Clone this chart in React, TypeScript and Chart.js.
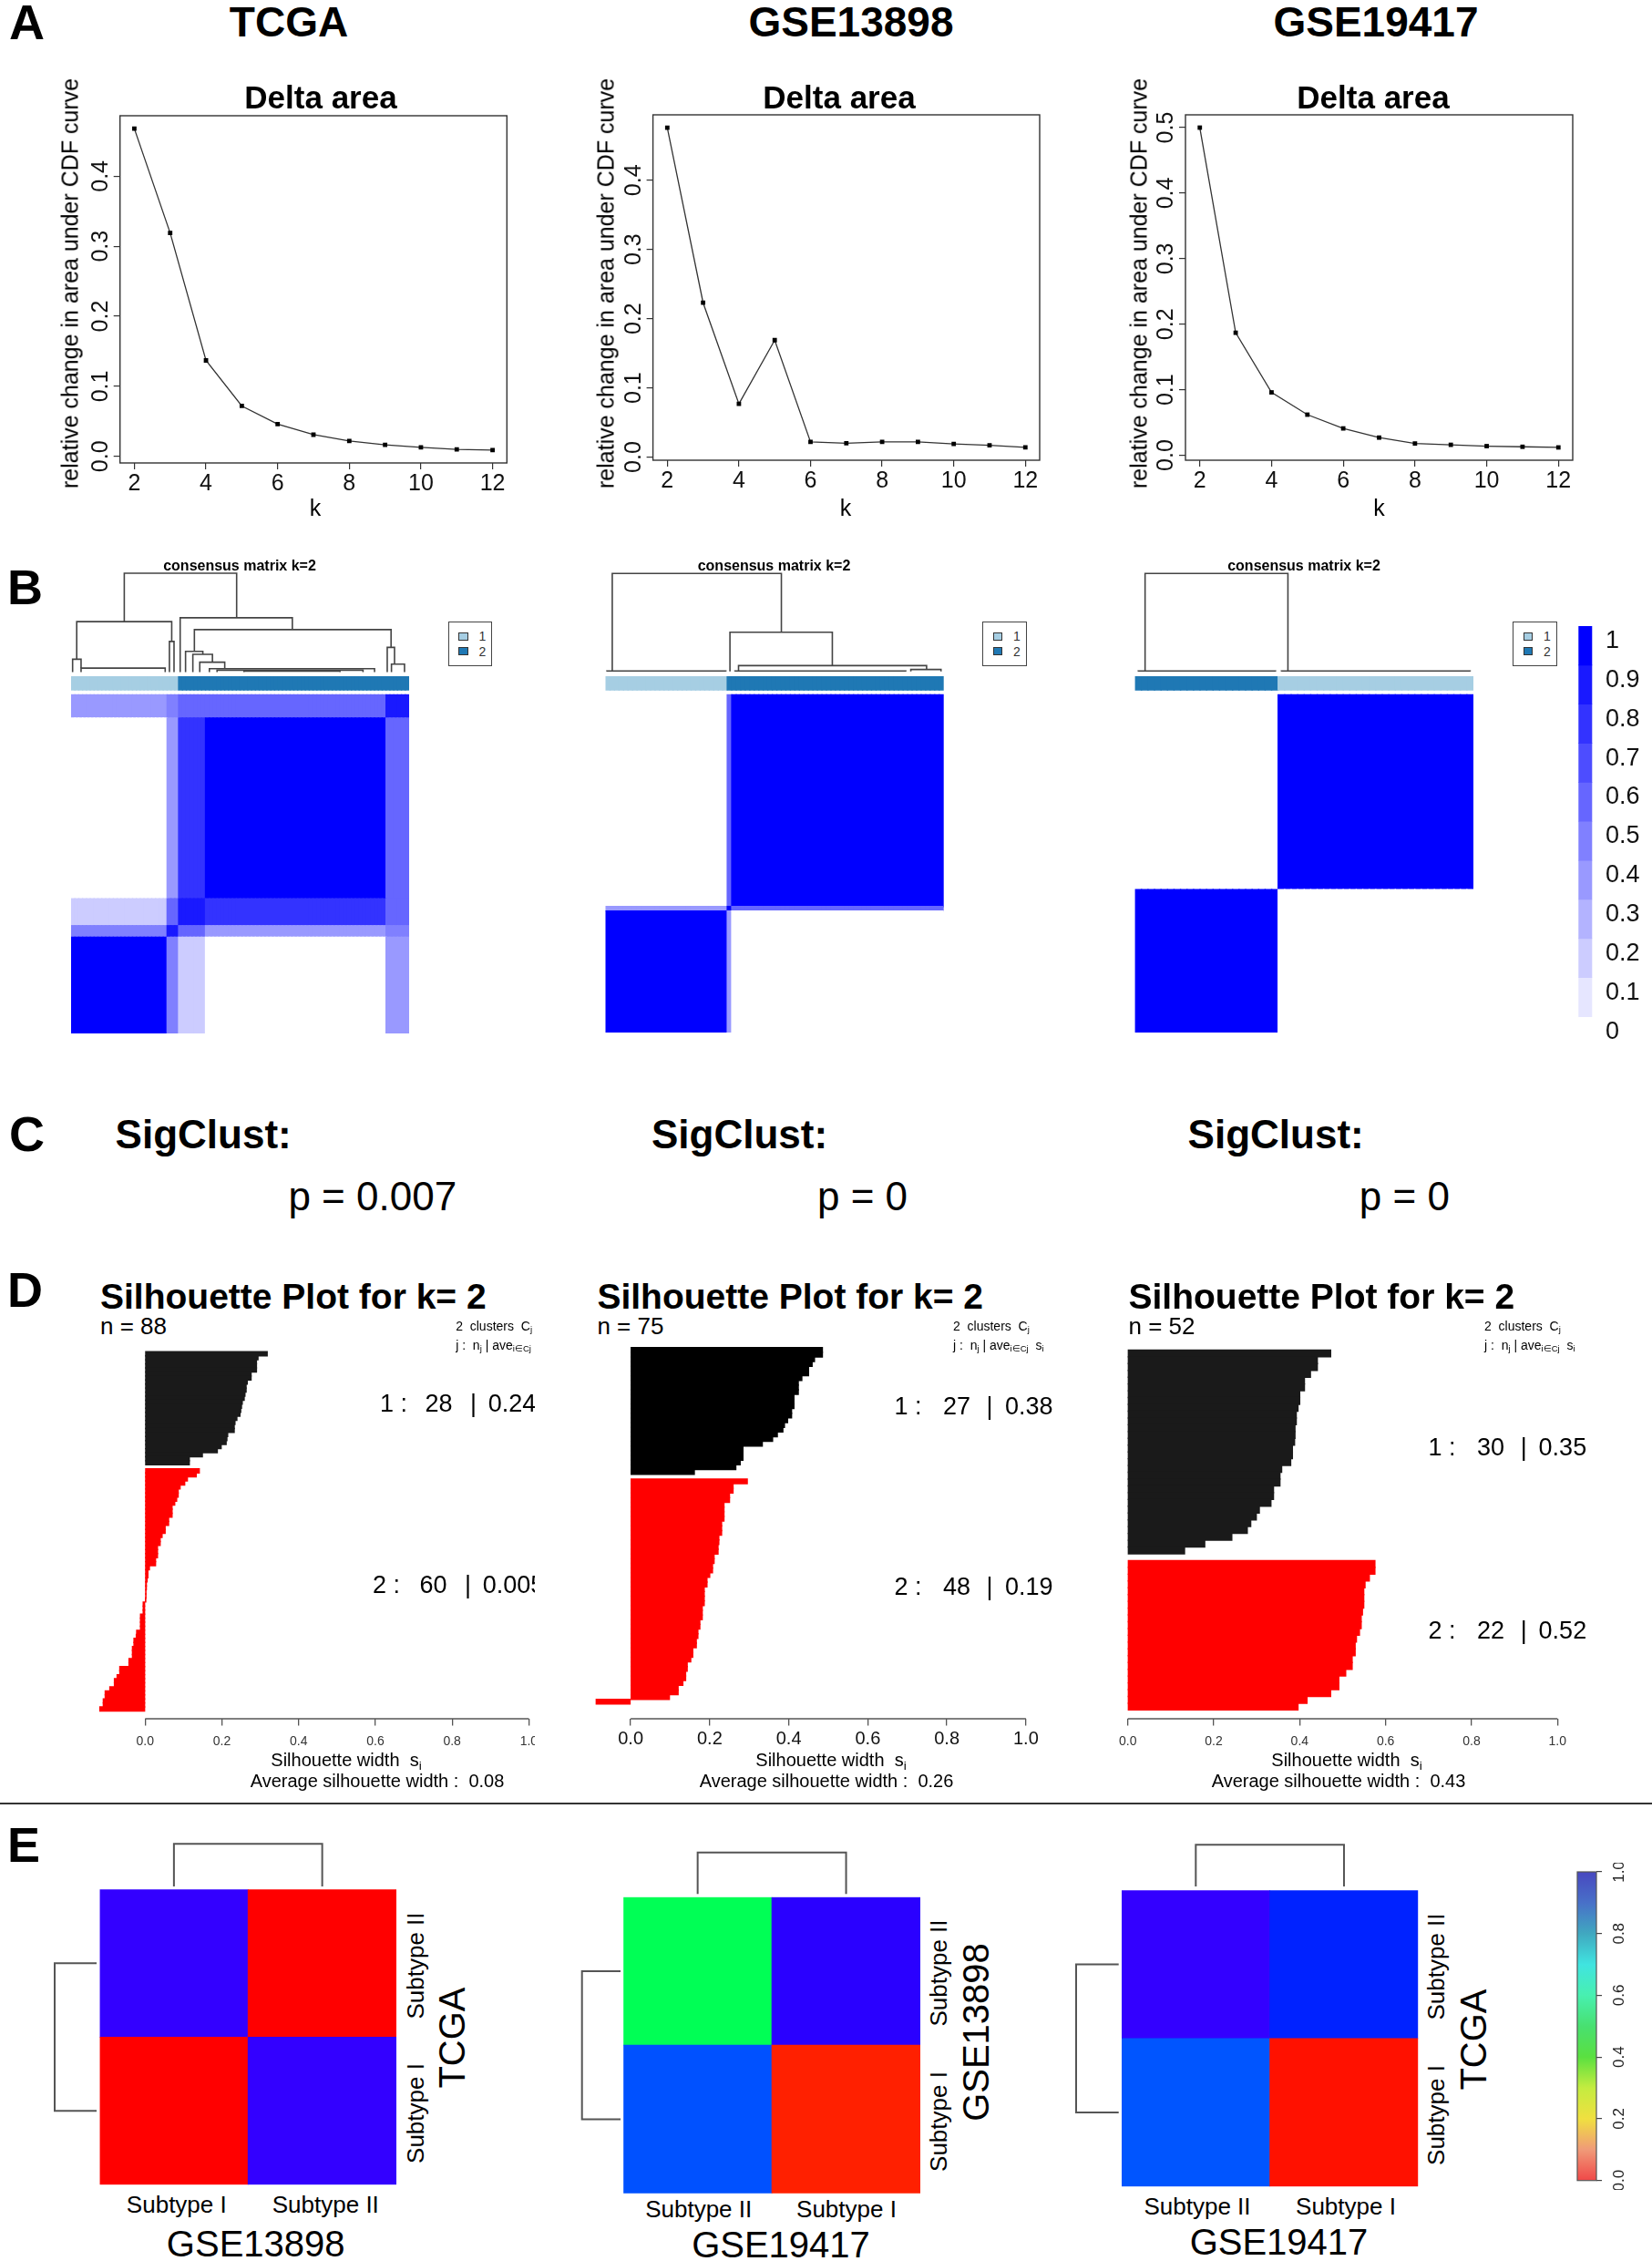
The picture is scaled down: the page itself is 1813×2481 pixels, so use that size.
import React, { useEffect, useRef } from 'react';
import { Chart, registerables } from 'chart.js';

Chart.register(...registerables);

const FONT = '"Liberation Sans", Arial, Helvetica, sans-serif';
Chart.defaults.font.family = FONT;

// ======================= DATA =======================
// Panel A: delta area (relative change in area under CDF curve)
const K_VALUES = [2, 3, 4, 5, 6, 7, 8, 9, 10, 11, 12];
const K_TICKS = [2, 4, 6, 8, 10, 12];
const DELTA_TCGA = [0.468, 0.319, 0.137, 0.072, 0.046, 0.031, 0.022, 0.0165, 0.013, 0.01, 0.009];
const DELTA_GSE13898 = [0.476, 0.223, 0.077, 0.169, 0.022, 0.02, 0.022, 0.022, 0.019, 0.017, 0.014];
const DELTA_GSE19417 = [0.5, 0.187, 0.096, 0.062, 0.041, 0.027, 0.018, 0.016, 0.014, 0.013, 0.012];
const DELTA_TICKS_04 = [0, 0.1, 0.2, 0.3, 0.4];
const DELTA_TICKS_05 = [0, 0.1, 0.2, 0.3, 0.4, 0.5];
const DATASET_NAMES = ['TCGA', 'GSE13898', 'GSE19417'];

// Panel B: consensus matrices (sample segments in dendrogram order, segment-level consensus)
const CM_TCGA_SEGMENTS = [25, 3, 7, 47, 6];
const CM_TCGA_CLUSTER = [1, 1, 2, 2, 2];
const CM_TCGA_VALUES = [
  [1.0, 0.5, 0.15, 0.0, 0.4],
  [0.5, 0.9, 0.6, 0.4, 0.45],
  [0.15, 0.6, 0.9, 0.8, 0.6],
  [0.0, 0.4, 0.8, 1.0, 0.6],
  [0.4, 0.45, 0.6, 0.6, 0.9],
];
const CM_GSE13898_SEGMENTS = [27, 1, 47];
const CM_GSE13898_CLUSTER = [1, 2, 2];
const CM_GSE13898_VALUES = [
  [1.0, 0.4, 0.0],
  [0.4, 1.0, 0.6],
  [0.0, 0.6, 1.0],
];
const CM_GSE19417_SEGMENTS = [22, 30];
const CM_GSE19417_CLUSTER = [2, 1];
const CM_GSE19417_VALUES = [
  [1.0, 0.0],
  [0.0, 1.0],
];
const CONSENSUS_LEVELS = [0, 0.1, 0.2, 0.3, 0.4, 0.5, 0.6, 0.7, 0.8, 0.9, 1];
const CLUSTER_LABELS = ['1', '2'];
// dendrogram merges: [x left, x right, merge height, left child height, right child height]
const DENDRO_TCGA = [
  [13.85, 43.1, 1.0, 0.51, 0.55],
  [1.47, 26.2, 0.51, 0.13, 0.31],
  [0.4, 2.6, 0.13, 0.0, 0.04],
  [2.6, 24.5, 0.04, 0.0, 0.0],
  [25.6, 26.8, 0.31, 0.0, 0.0],
  [28.4, 57.6, 0.55, 0.0, 0.43],
  [32.1, 83.3, 0.43, 0.21, 0.25],
  [29.8, 34.3, 0.21, 0.0, 0.18],
  [31.7, 36.8, 0.18, 0.0, 0.1],
  [33.5, 40.0, 0.1, 0.0, 0.035],
  [36.0, 79.0, 0.035, 0.0, 0.0],
  [38.0, 76.0, 0.02, 0.0, 0.0],
  [45.0, 70.0, 0.01, 0.0, 0.0],
  [82.3, 84.2, 0.25, 0.0, 0.08],
  [83.4, 86.8, 0.08, 0.0, 0.0],
];
const DENDRO_GSE13898 = [
  [1.5, 39.0, 1.0, 0.0, 0.4],
  [27.6, 50.3, 0.4, 0.0, 0.06],
  [29.5, 71.2, 0.06, 0.0, 0.02],
  [67.7, 74.4, 0.02, 0.0, 0.0],
  [0.3, 26.7, 0.005, 0.0, 0.0],
  [28.7, 66.6, 0.005, 0.0, 0.0],
];
const DENDRO_GSE19417 = [
  [1.55, 23.5, 1.0, 0.0, 0.0],
  [0.5, 21.6, 0.005, 0.0, 0.0],
  [22.5, 51.5, 0.005, 0.0, 0.0],
];

// Panel C: SigClust p-values
const SIGCLUST_P = ['0.007', '0', '0'];

// Panel D: silhouette widths (sorted within cluster, top to bottom)
const SIL_TCGA_C1 = [0.318, 0.294, 0.29, 0.29, 0.29, 0.276, 0.276, 0.266, 0.263, 0.263, 0.26, 0.258, 0.253, 0.251, 0.249, 0.247, 0.239, 0.234, 0.232, 0.232, 0.215, 0.213, 0.211, 0.198, 0.188, 0.149, 0.115, 0.115];
const SIL_TCGA_C2 = [0.141, 0.133, 0.11, 0.103, 0.091, 0.086, 0.086, 0.082, 0.077, 0.07, 0.07, 0.07, 0.061, 0.061, 0.052, 0.052, 0.044, 0.039, 0.039, 0.032, 0.032, 0.032, 0.027, 0.027, 0.011, 0.007, 0.007, 0.005, 0.003, 0.003, 0.002, 0.002, 0.001, -0.005, -0.005, -0.005, -0.012, -0.012, -0.012, -0.012, -0.022, -0.023, -0.029, -0.029, -0.033, -0.033, -0.033, -0.042, -0.042, -0.066, -0.066, -0.073, -0.08, -0.08, -0.092, -0.104, -0.104, -0.109, -0.109, -0.118];
const SIL_GSE13898_C1 = [0.485, 0.485, 0.465, 0.459, 0.45, 0.45, 0.433, 0.424, 0.424, 0.424, 0.413, 0.413, 0.413, 0.407, 0.407, 0.397, 0.389, 0.385, 0.371, 0.359, 0.333, 0.284, 0.284, 0.284, 0.277, 0.266, 0.161];
const SIL_GSE13898_C2 = [0.295, 0.259, 0.259, 0.25, 0.25, 0.236, 0.236, 0.236, 0.236, 0.23, 0.23, 0.23, 0.223, 0.223, 0.221, 0.221, 0.211, 0.211, 0.207, 0.207, 0.2, 0.193, 0.193, 0.186, 0.186, 0.186, 0.186, 0.181, 0.181, 0.181, 0.175, 0.175, 0.17, 0.17, 0.166, 0.166, 0.157, 0.157, 0.152, 0.143, 0.143, 0.139, 0.139, 0.132, 0.12, 0.12, 0.098, -0.087];
const SIL_GSE19417_C1 = [0.472, 0.441, 0.441, 0.425, 0.411, 0.411, 0.4, 0.4, 0.396, 0.392, 0.392, 0.389, 0.389, 0.388, 0.383, 0.383, 0.379, 0.358, 0.354, 0.354, 0.339, 0.339, 0.333, 0.306, 0.299, 0.286, 0.278, 0.242, 0.179, 0.132];
const SIL_GSE19417_C2 = [0.575, 0.575, 0.562, 0.552, 0.549, 0.549, 0.549, 0.546, 0.543, 0.543, 0.539, 0.532, 0.529, 0.529, 0.522, 0.522, 0.507, 0.491, 0.491, 0.472, 0.417, 0.396];
const SIL_N = [88, 75, 52];
const SIL_CLUSTER_N = [[28, 60], [27, 48], [30, 22]];
const SIL_CLUSTER_AVE = [['0.24', '0.005'], ['0.38', '0.19'], ['0.35', '0.52']];
const SIL_AVERAGE = ['0.08', '0.26', '0.43'];
const SIL_TICKS = [0, 0.2, 0.4, 0.6, 0.8, 1.0];

// Panel E: subclass mapping (rows bottom->top: Subtype I, Subtype II; cols left->right)
const E1_VALUES = [[0.0, 1.0], [1.0, 0.0]];
const E2_VALUES = [[0.877, 0.03], [0.556, 0.992]];
const E3_VALUES = [[0.873, 0.016], [1.0, 0.921]];
const E_ROW_LABELS = ['Subtype I', 'Subtype II'];
const E1_COL_LABELS = ['Subtype I', 'Subtype II'];
const E2_COL_LABELS = ['Subtype II', 'Subtype I'];
const E3_COL_LABELS = ['Subtype II', 'Subtype I'];
const E_ROW_NAMES = ['TCGA', 'GSE13898', 'TCGA'];
const E_COL_NAMES = ['GSE13898', 'GSE19417', 'GSE19417'];
const E_DENDRO = [[0.5, 1.5, 1.0, 0.0, 0.0]];
const E_CBAR_TICKS = [0, 0.2, 0.4, 0.6, 0.8, 1.0];

// ======================= STYLE / LAYOUT =======================
const CLUSTER_COLORS = ['#A6CEE3', '#1F78B4'];
const E_CBAR_STOPS: [number, string][] = [
  [0, '#f04848'], [0.1, '#f09a78'], [0.2, '#f0e040'], [0.3, '#c4ec40'], [0.4, '#5ae040'],
  [0.5, '#48e070'], [0.6, '#48f0b0'], [0.7, '#40e4e0'], [0.8, '#40a8c0'], [0.9, '#4870c8'], [1, '#4848c0'],
];

const A_AREAS = [
  { l: 131.7, t: 127, r: 556.3, b: 508 },
  { l: 716.6, t: 126, r: 1141, b: 505 },
  { l: 1301, t: 126, r: 1726, b: 505 },
];
const A_TITLE_X = [317, 934, 1510];
const A_SUB_X = [352, 921, 1507];
const A_YT_X = [77, 665, 1249.6];
const A_K_X = [346, 928, 1513.5];

const B_GEO = [
  { x0: 78, x1: 449, dTop: 629, dBottom: 737.5, annTop: 742, annBottom: 757, matTop: 762.5, matBottom: 1134, title: 263, leg: 491.5 },
  { x0: 664.5, x1: 1035.7, dTop: 629.3, dBottom: 736.8, annTop: 742, annBottom: 757, matTop: 762.5, matBottom: 1133, title: 849.5, leg: 1078 },
  { x0: 1245.6, x1: 1617, dTop: 629.3, dBottom: 736.8, annTop: 742, annBottom: 757, matTop: 762.5, matBottom: 1133, title: 1431, leg: 1660 },
];
const B_CBAR = { l: 1732.3, t: 687, r: 1747.4, b: 1158.4 };

const C_SIG_X = [126.6, 715, 1303.6];
const C_P_X = [316.4, 897, 1491.8];

const D_GEO = [
  { x0: 159.3, unit: 421.1, xmin: -0.125, barsTop: 1483.3, barsBottom: 1877.5, axisY: 1886, clipRight: 587, titleX: 110, hdrX: 500.2,
    tickSize: 14, tickColor: '#333', tickPad: 10.4, c1Color: '#1a1a1a',
    textX: [[417, 466.6, 516, 535.8], [409, 460.6, 510, 529.8]], textY: [1540.7, 1739.7], axTitleX: 380, avgX: 414 },
  { x0: 692.1, unit: 433.8, xmin: -0.1, barsTop: 1478.7, barsBottom: 1869.9, axisY: 1886, clipRight: 0, titleX: 655.4, hdrX: 1046,
    tickSize: 20, tickColor: '#111', tickPad: 4.4, c1Color: '#000',
    textX: [[981.6, 1035, 1082.4, 1103], [981.6, 1035, 1082.4, 1103]], textY: [1543.8, 1741], axTitleX: 912, avgX: 907 },
  { x0: 1237.7, unit: 471.6, xmin: -0.02, barsTop: 1481.4, barsBottom: 1876.4, axisY: 1886, clipRight: 0, titleX: 1238.5, hdrX: 1629,
    tickSize: 14, tickColor: '#333', tickPad: 10.4, c1Color: '#1a1a1a',
    textX: [[1567.4, 1621, 1668.7, 1688.6], [1567.4, 1621, 1668.7, 1688.6]], textY: [1588.6, 1789.5], axTitleX: 1478, avgX: 1469 },
];

const E_GEO = [
  { hm: { l: 109.5, t: 2073.3, r: 435, b: 2397.3 }, topDen: { t: 2023.3, b: 2070 }, leftDen: { l: 60, r: 106 },
    rowX: 455.8, rowY: [2319, 2156.7], nameX: 496, nameY: 2236, colY: 2419, colX: [193.8, 357.3], cnX: 280.7, cnY: 2462 },
  { hm: { l: 684.2, t: 2081.7, r: 1010, b: 2406.7 }, topDen: { t: 2032.7, b: 2078.3 }, leftDen: { l: 638.7, r: 681 },
    rowX: 1030, rowY: [2328, 2165], nameX: 1071.4, nameY: 2230, colY: 2424, colX: [766.7, 929], cnX: 857, cnY: 2463 },
  { hm: { l: 1231, t: 2074.3, r: 1556.3, b: 2399.3 }, topDen: { t: 2024.3, b: 2070 }, leftDen: { l: 1181, r: 1227.7 },
    rowX: 1576.4, rowY: [2321, 2158], nameX: 1617, nameY: 2237.5, colY: 2421, colX: [1314, 1477], cnX: 1403.5, cnY: 2460 },
];
const E_CBAR = { l: 1731, t: 2054, r: 1752, b: 2392.7 };

// ======================= HELPERS =======================
type Box = { l: number; t: number; r: number; b: number };

function frame(area: Box, m: Box) {
  const left = Math.floor(area.l - m.l);
  const top = Math.floor(area.t - m.t);
  const width = Math.ceil(area.r + m.r) - left;
  const height = Math.ceil(area.b + m.b) - top;
  return {
    left, top, width, height,
    padding: { left: area.l - left, top: area.t - top, right: left + width - area.r, bottom: top + height - area.b },
  };
}

// fix a scale's thickness (labels are clipped to the scale box, so visible axes get the margin)
const axisFit = (size: number) => (s: any) => {
  if (s.isHorizontal()) s.height = size; else s.width = size;
  s.paddingLeft = 0; s.paddingRight = 0; s.paddingTop = 0; s.paddingBottom = 0;
};
const zeroFit = axisFit(0);

function hiddenLinear(min: number, max: number, extra: any = {}) {
  return {
    type: 'linear', display: false, min, max, offset: false,
    grid: { display: false, offset: false, drawTicks: false },
    ticks: { display: false },
    afterBuildTicks: (s: any) => { s.ticks = [{ value: min }, { value: max }]; },
    afterFit: zeroFit,
    ...extra,
  };
}

function baseOptions(padding: any, extra: any = {}) {
  return {
    responsive: false, maintainAspectRatio: false, animation: false, devicePixelRatio: 1, events: [],
    layout: { padding, autoPadding: false },
    plugins: { legend: { display: false }, tooltip: { enabled: false }, title: { display: false } },
    ...extra,
  };
}

const consensusColor = (v: number) => {
  const q = Math.round(v * 10) / 10;
  const c = Math.round(255 * (1 - q));
  return `rgb(${c},${c},255)`;
};
const rainbow = (v: number) => `hsl(${v * 252}, 100%, 50%)`;

function boxBorder(color: string, width: number) {
  return {
    id: 'boxBorder',
    afterDraw(chart: any) {
      const { ctx, chartArea: a } = chart;
      ctx.save();
      ctx.strokeStyle = color;
      ctx.lineWidth = width;
      ctx.strokeRect(a.left, a.top, a.right - a.left, a.bottom - a.top);
      ctx.restore();
    },
  };
}

function rotTicks(axis: string, side: string, offset: number, size: number, color: string, fmt: (v: number) => string) {
  return {
    id: 'rotTicks',
    afterDraw(chart: any) {
      const s = chart.scales[axis];
      const a = chart.chartArea;
      const ctx = chart.ctx;
      ctx.save();
      ctx.font = `${size}px ${FONT}`;
      ctx.fillStyle = color;
      ctx.textAlign = 'center';
      ctx.textBaseline = 'alphabetic';
      const x = side === 'left' ? a.left - offset : a.right + offset;
      for (const t of s.ticks) {
        const y = s.getPixelForValue(t.value);
        ctx.save();
        ctx.translate(x, y);
        ctx.rotate(-Math.PI / 2);
        ctx.fillText(fmt(t.value), 0, 0);
        ctx.restore();
      }
      ctx.restore();
    },
  };
}

const silAxisLine = {
  id: 'silAxisLine',
  afterDraw(chart: any) {
    const s = chart.scales.x;
    const y = chart.chartArea.bottom;
    const ctx = chart.ctx;
    ctx.save();
    ctx.strokeStyle = '#555';
    ctx.lineWidth = 1.3;
    ctx.beginPath();
    ctx.moveTo(s.getPixelForValue(0), y);
    ctx.lineTo(s.getPixelForValue(1), y);
    ctx.stroke();
    ctx.restore();
  },
};

// ======================= CHART CONFIGS =======================
function deltaChart(values: number[], yTicks: number[], p: any) {
  const lo = Math.min(...values), hi = Math.max(...values), span = hi - lo;
  const kLo = Math.min(...K_VALUES), kHi = Math.max(...K_VALUES), kSpan = kHi - kLo;
  const tickGrid = { display: true, drawOnChartArea: false, drawTicks: true, tickLength: 7, color: '#333', lineWidth: 1.2 };
  return {
    type: 'line',
    data: {
      datasets: [{
        data: K_VALUES.map((k, i) => ({ x: k, y: values[i] })),
        borderColor: '#333', borderWidth: 1.3, tension: 0, fill: false,
        pointStyle: 'rect', pointRadius: 3.4, pointBackgroundColor: '#000', pointBorderColor: '#000', pointBorderWidth: 0,
      }],
    },
    options: baseOptions({ ...p, bottom: 0 }, {
      scales: {
        x: {
          type: 'linear', min: kLo - 0.04 * kSpan, max: kHi + 0.04 * kSpan, offset: false,
          afterBuildTicks: (s: any) => { s.ticks = K_TICKS.map((v) => ({ value: v })); },
          afterFit: axisFit(p.bottom), border: { display: false }, grid: tickGrid,
          ticks: { autoSkip: false, maxRotation: 0, minRotation: 0, padding: 3.5, color: '#111', font: { size: 25, lineHeight: 1 } },
        },
        y: {
          type: 'linear', min: lo - 0.04 * span, max: hi + 0.04 * span,
          afterBuildTicks: (s: any) => { s.ticks = yTicks.map((v) => ({ value: v })); },
          afterFit: zeroFit, border: { display: false }, grid: tickGrid, ticks: { display: false },
        },
      },
    }),
    plugins: [boxBorder('#333', 1.4), rotTicks('y', 'left', 14, 25, '#111', (v) => v.toFixed(1))],
  };
}

function dendroChart(merges: number[][], n: number, padding: any, color: string, width: number, horizontal = false) {
  const datasets = merges.map(([a, b, h, ha, hb]) => ({
    data: horizontal
      ? [{ x: ha, y: a }, { x: h, y: a }, { x: h, y: b }, { x: hb, y: b }]
      : [{ x: a, y: ha }, { x: a, y: h }, { x: b, y: h }, { x: b, y: hb }],
    showLine: true, borderColor: color, borderWidth: width, pointRadius: 0, fill: false, tension: 0, clip: false,
  }));
  return {
    type: 'scatter',
    data: { datasets },
    options: baseOptions(padding, {
      scales: horizontal
        ? { x: hiddenLinear(0, 1, { reverse: true }), y: hiddenLinear(0, n) }
        : { x: hiddenLinear(0, n), y: hiddenLinear(0, 1) },
    }),
  };
}

const CELL_BAR = { borderWidth: 0, barPercentage: 1, categoryPercentage: 1, grouped: false, inflateAmount: 0.7 };

function consensusChart(segments: number[], clusters: number[], values: number[][], g: any, padding: any) {
  const n = segments.reduce((a, b) => a + b, 0);
  const starts: number[] = [];
  let acc = 0;
  segments.forEach((s) => { starts.push(acc); acc += s; });
  const colSeg: number[] = [];
  segments.forEach((s, i) => { for (let k = 0; k < s; k++) colSeg.push(i); });
  const cells = segments.map((size, ri) => ({
    ...CELL_BAR, yAxisID: 'y',
    data: colSeg.map((_, c) => ({ x: c + 0.5, y: [starts[ri], starts[ri] + size] })),
    backgroundColor: colSeg.map((cs) => consensusColor(values[ri][cs])),
  }));
  const annot = {
    ...CELL_BAR, yAxisID: 'y2',
    data: colSeg.map((_, c) => ({ x: c + 0.5, y: [0, 1] })),
    backgroundColor: colSeg.map((cs) => CLUSTER_COLORS[clusters[cs] - 1]),
  };
  const H = g.matBottom - g.annTop;
  return {
    type: 'bar',
    data: { datasets: [...cells, annot] },
    options: baseOptions(padding, {
      scales: {
        x: hiddenLinear(0, n),
        y: hiddenLinear(0, (n * H) / (g.matBottom - g.matTop)),
        y2: hiddenLinear(-(g.matBottom - g.annBottom) / (g.annBottom - g.annTop), 1),
      },
    }),
  };
}

function consensusBarChart(p: any) {
  return {
    type: 'bar',
    data: {
      datasets: [{
        data: CONSENSUS_LEVELS.map((v) => ({ x: 0, y: [v - 0.05, v + 0.05] })),
        backgroundColor: CONSENSUS_LEVELS.map(consensusColor),
        borderWidth: 0, barPercentage: 1, categoryPercentage: 1, grouped: false,
      }],
    },
    options: baseOptions({ ...p, right: 0 }, {
      scales: {
        x: hiddenLinear(-0.5, 0.5),
        y: {
          type: 'linear', position: 'right', min: -0.05, max: 1.05,
          afterBuildTicks: (s: any) => { s.ticks = CONSENSUS_LEVELS.map((v) => ({ value: v })); },
          afterFit: axisFit(p.right), border: { display: false }, grid: { display: false, drawTicks: false },
          ticks: {
            autoSkip: false, padding: 14.6, labelOffset: -4.8, color: '#111', font: { size: 27, lineHeight: 1 },
            callback: (v: any) => String(Math.round(Number(v) * 10) / 10),
          },
        },
      },
    }),
  };
}

function silChart(c1: number[], c2: number[], g: any, p: any) {
  const nSlots = c1.length + 1 + c2.length;
  const slot = (g.barsBottom - g.barsTop) / nSlots;
  const yMin = -0.5 - 4 / slot;
  const yMax = nSlots - 0.5 + (g.axisY - g.barsBottom) / slot;
  return {
    type: 'bar',
    data: {
      datasets: [
        { ...CELL_BAR, data: c1.map((v, i) => ({ x: v, y: i })), backgroundColor: g.c1Color },
        { ...CELL_BAR, data: c2.map((v, j) => ({ x: v, y: c1.length + 1 + j })), backgroundColor: '#ff0000' },
      ],
    },
    options: baseOptions({ ...p, bottom: 0 }, {
      indexAxis: 'y',
      scales: {
        x: {
          type: 'linear', min: g.xmin, max: 1, offset: false,
          afterBuildTicks: (s: any) => { s.ticks = SIL_TICKS.map((v) => ({ value: v })); },
          afterFit: axisFit(p.bottom), border: { display: false },
          grid: { display: true, drawOnChartArea: false, drawTicks: true, tickLength: 7.6, color: '#555', lineWidth: 1.3, offset: false },
          ticks: {
            autoSkip: false, maxRotation: 0, minRotation: 0, padding: g.tickPad, color: g.tickColor,
            font: { size: g.tickSize, lineHeight: 1 }, callback: (v: any) => Number(v).toFixed(1),
          },
        },
        y: hiddenLinear(yMin, yMax, { reverse: true }),
      },
    }),
    plugins: [silAxisLine],
  };
}

function subtypeHeatmap(values: number[][], padding: any) {
  return {
    type: 'bar',
    data: {
      datasets: values.map((row, ri) => ({
        ...CELL_BAR, inflateAmount: 0.4,
        data: row.map((_, ci) => ({ x: ci + 0.5, y: [ri, ri + 1] })),
        backgroundColor: row.map(rainbow),
      })),
    },
    options: baseOptions(padding, { scales: { x: hiddenLinear(0, 2), y: hiddenLinear(0, 2) } }),
  };
}

function rainbowBarChart(padding: any) {
  return {
    type: 'bar',
    data: {
      datasets: [{
        data: [{ x: 0, y: [0, 1] }],
        backgroundColor: (c: any) => {
          const ch = c.chart;
          const a = ch.chartArea;
          if (!a) return '#ccc';
          const grad = ch.ctx.createLinearGradient(0, a.bottom, 0, a.top);
          E_CBAR_STOPS.forEach(([pos, col]) => grad.addColorStop(pos, col));
          return grad;
        },
        borderWidth: 0, barPercentage: 1, categoryPercentage: 1, grouped: false,
      }],
    },
    options: baseOptions(padding, {
      scales: {
        x: hiddenLinear(-0.5, 0.5),
        y: {
          type: 'linear', position: 'right', min: 0, max: 1,
          afterBuildTicks: (s: any) => { s.ticks = E_CBAR_TICKS.map((v) => ({ value: v })); },
          afterFit: zeroFit, border: { display: false },
          grid: { display: true, drawOnChartArea: false, drawTicks: true, tickLength: 6, color: '#444', lineWidth: 1.2 },
          ticks: { display: false },
        },
      },
    }),
    plugins: [boxBorder('#555', 1.2), rotTicks('y', 'right', 30, 17, '#222', (v) => v.toFixed(1))],
  };
}

// ======================= COMPONENTS =======================
function ChartCanvas({ area, margin, make }: { area: Box; margin: Box; make: (padding: any) => any }) {
  const ref = useRef<HTMLCanvasElement | null>(null);
  const f = frame(area, margin);
  useEffect(() => {
    const chart = new Chart(ref.current as HTMLCanvasElement, make(f.padding));
    return () => chart.destroy();
  }, []);
  return (
    <canvas
      ref={ref}
      width={f.width}
      height={f.height}
      style={{ position: 'absolute', left: f.left, top: f.top, width: f.width, height: f.height }}
    />
  );
}

function Txt({ x, y, size, bold = false, align = 'left', rot = 0, color = '#000', children }: any) {
  const base: any = {
    position: 'absolute', fontSize: size, lineHeight: `${size}px`, fontWeight: bold ? 700 : 400,
    fontFamily: FONT, color, whiteSpace: 'pre',
  };
  if (rot) {
    return <div style={{ ...base, left: x, top: y, transform: `translate(-50%, -50%) rotate(${rot}deg)` }}>{children}</div>;
  }
  const tx = align === 'center' ? 'translateX(-50%)' : align === 'right' ? 'translateX(-100%)' : 'none';
  return <div style={{ ...base, left: x, top: y - size / 2, transform: tx }}>{children}</div>;
}

const Sub = ({ children }: any) => (
  <span style={{ fontSize: '0.68em', position: 'relative', top: '0.28em' }}>{children}</span>
);

const M = (v: number): Box => ({ l: v, t: v, r: v, b: v });

export default function App() {
  const deltaSets = [
    [DELTA_TCGA, DELTA_TICKS_04],
    [DELTA_GSE13898, DELTA_TICKS_04],
    [DELTA_GSE19417, DELTA_TICKS_05],
  ] as any[];
  const cmSets = [
    [CM_TCGA_SEGMENTS, CM_TCGA_CLUSTER, CM_TCGA_VALUES, DENDRO_TCGA],
    [CM_GSE13898_SEGMENTS, CM_GSE13898_CLUSTER, CM_GSE13898_VALUES, DENDRO_GSE13898],
    [CM_GSE19417_SEGMENTS, CM_GSE19417_CLUSTER, CM_GSE19417_VALUES, DENDRO_GSE19417],
  ] as any[];
  const silSets = [
    [SIL_TCGA_C1, SIL_TCGA_C2],
    [SIL_GSE13898_C1, SIL_GSE13898_C2],
    [SIL_GSE19417_C1, SIL_GSE19417_C2],
  ] as any[];
  const eSets = [
    [E1_VALUES, E1_COL_LABELS],
    [E2_VALUES, E2_COL_LABELS],
    [E3_VALUES, E3_COL_LABELS],
  ] as any[];

  return (
    <div style={{ position: 'absolute', left: 0, top: 0, width: 1813, height: 2481, background: '#fff', overflow: 'hidden', fontFamily: FONT }}>
      {/* ---------- Panel A ---------- */}
      {deltaSets.map(([vals, ticks], i) => (
        <ChartCanvas key={'a' + i} area={A_AREAS[i]} margin={{ l: 45, t: 12, r: 25, b: 45 }}
          make={(p) => deltaChart(vals, ticks, p)} />
      ))}
      <Txt x={10} y={23.6} size={54} bold>A</Txt>
      {DATASET_NAMES.map((name, i) => (
        <React.Fragment key={'at' + i}>
          <Txt x={A_TITLE_X[i]} y={23.6} size={46} bold align="center">{name}</Txt>
          <Txt x={A_SUB_X[i]} y={106} size={35} bold align="center">Delta area</Txt>
          <Txt x={A_YT_X[i]} y={311} size={25} rot={-90}>relative change in area under CDF curve</Txt>
          <Txt x={A_K_X[i]} y={557} size={25} align="center">k</Txt>
        </React.Fragment>
      ))}

      {/* ---------- Panel B ---------- */}
      <Txt x={8} y={643.5} size={54} bold>B</Txt>
      {cmSets.map(([segs, clus, vals, dendro], i) => {
        const g = B_GEO[i];
        const n = segs.reduce((a: number, b: number) => a + b, 0);
        return (
          <React.Fragment key={'b' + i}>
            <ChartCanvas area={{ l: g.x0, t: g.dTop, r: g.x1, b: g.dBottom }} margin={M(3)}
              make={(p) => dendroChart(dendro, n, p, '#444', 1.6)} />
            <ChartCanvas area={{ l: g.x0, t: g.annTop, r: g.x1, b: g.matBottom }} margin={M(1)}
              make={(p) => consensusChart(segs, clus, vals, g, p)} />
            <Txt x={g.title} y={620.5} size={16} bold align="center">consensus matrix k=2</Txt>
            <div style={{ position: 'absolute', left: g.leg, top: 681.5, width: 48.5, height: 49.5, border: '1px solid #444', boxSizing: 'border-box' }} />
            {CLUSTER_LABELS.map((lab, j) => (
              <React.Fragment key={'bl' + j}>
                <div style={{ position: 'absolute', left: g.leg + 11.8, top: 693.6 + j * 16.5, width: 10.7, height: 9, background: CLUSTER_COLORS[j], border: '1px solid #333', boxSizing: 'border-box' }} />
                <Txt x={g.leg + 38} y={698.1 + j * 16.5} size={14} color="#333" align="center">{lab}</Txt>
              </React.Fragment>
            ))}
          </React.Fragment>
        );
      })}
      <ChartCanvas area={B_CBAR} margin={{ l: 2, t: 2, r: 60, b: 2 }} make={(p) => consensusBarChart(p)} />

      {/* ---------- Panel C ---------- */}
      <Txt x={10} y={1244} size={54} bold>C</Txt>
      {SIGCLUST_P.map((pv, i) => (
        <React.Fragment key={'c' + i}>
          <Txt x={C_SIG_X[i]} y={1245} size={44} bold>SigClust:</Txt>
          <Txt x={C_P_X[i]} y={1313} size={44}>{'p = ' + pv}</Txt>
        </React.Fragment>
      ))}

      {/* ---------- Panel D ---------- */}
      <Txt x={8} y={1415} size={54} bold>D</Txt>
      {silSets.map(([c1, c2], i) => {
        const g = D_GEO[i];
        const area = { l: g.x0 + g.xmin * g.unit, t: g.barsTop - 4, r: g.x0 + g.unit, b: g.axisY };
        const margin = { l: 2, t: 2, r: g.clipRight ? g.clipRight - area.r : 30, b: 40 };
        const clipW = g.clipRight ? g.clipRight : 1813;
        return (
          <React.Fragment key={'d' + i}>
            <ChartCanvas area={area} margin={margin} make={(p) => silChart(c1, c2, g, p)} />
            <Txt x={g.titleX} y={1422} size={39} bold>Silhouette Plot for k= 2</Txt>
            <Txt x={g.titleX} y={1455} size={26}>{'n = ' + SIL_N[i]}</Txt>
            <div style={{ position: 'absolute', left: 0, top: 1380, width: clipW, height: 590, overflow: 'hidden' }}>
              <Txt x={g.hdrX} y={1454.5 - 1380} size={14}>2  clusters  C<Sub>j</Sub></Txt>
              <Txt x={g.hdrX} y={1475.5 - 1380} size={14}>j :  n<Sub>j</Sub> | ave<Sub>i∈Cj</Sub>  s<Sub>i</Sub></Txt>
              {[0, 1].map((j) => (
                <React.Fragment key={'dt' + j}>
                  <Txt x={g.textX[j][0]} y={g.textY[j] - 1380} size={27}>{(j + 1) + ' :'}</Txt>
                  <Txt x={g.textX[j][1]} y={g.textY[j] - 1380} size={27}>{String(SIL_CLUSTER_N[i][j])}</Txt>
                  <Txt x={g.textX[j][2]} y={g.textY[j] - 1380} size={27}>|</Txt>
                  <Txt x={g.textX[j][3]} y={g.textY[j] - 1380} size={27}>{SIL_CLUSTER_AVE[i][j]}</Txt>
                </React.Fragment>
              ))}
            </div>
            <Txt x={g.axTitleX} y={1931} size={20} align="center">Silhouette width  s<Sub>i</Sub></Txt>
            <Txt x={g.avgX} y={1954} size={20} align="center">{'Average silhouette width :  ' + SIL_AVERAGE[i]}</Txt>
          </React.Fragment>
        );
      })}

      <div style={{ position: 'absolute', left: 0, top: 1978, width: 1813, height: 2, background: '#333' }} />

      {/* ---------- Panel E ---------- */}
      <Txt x={8} y={2024} size={54} bold>E</Txt>
      {eSets.map(([vals, colLabels], i) => {
        const g = E_GEO[i];
        return (
          <React.Fragment key={'e' + i}>
            <ChartCanvas area={g.hm} margin={M(1)} make={(p) => subtypeHeatmap(vals, p)} />
            <ChartCanvas area={{ l: g.hm.l, t: g.topDen.t, r: g.hm.r, b: g.topDen.b }} margin={M(3)}
              make={(p) => dendroChart(E_DENDRO, 2, p, '#555', 2)} />
            <ChartCanvas area={{ l: g.leftDen.l, t: g.hm.t, r: g.leftDen.r, b: g.hm.b }} margin={M(3)}
              make={(p) => dendroChart(E_DENDRO, 2, p, '#555', 2, true)} />
            {E_ROW_LABELS.map((lab, j) => (
              <Txt key={'er' + j} x={g.rowX} y={g.rowY[j]} size={26} rot={-90}>{lab}</Txt>
            ))}
            <Txt x={g.nameX} y={g.nameY} size={40} rot={-90}>{E_ROW_NAMES[i]}</Txt>
            {colLabels.map((lab: string, j: number) => (
              <Txt key={'ec' + j} x={g.colX[j]} y={g.colY} size={26} align="center">{lab}</Txt>
            ))}
            <Txt x={g.cnX} y={g.cnY} size={40} align="center">{E_COL_NAMES[i]}</Txt>
          </React.Fragment>
        );
      })}
      <ChartCanvas area={E_CBAR} margin={{ l: 2, t: 10, r: 45, b: 10 }} make={(p) => rainbowBarChart(p)} />
    </div>
  );
}
